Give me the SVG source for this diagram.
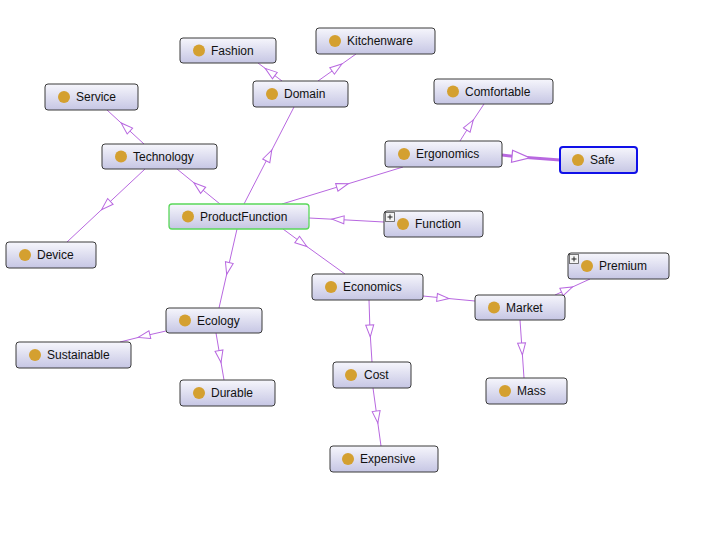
<svg xmlns="http://www.w3.org/2000/svg" width="721" height="533" viewBox="0 0 721 533">
<defs>
<linearGradient id="g" x1="0" y1="0" x2="0" y2="1">
<stop offset="0" stop-color="#f6f6fc"/>
<stop offset="1" stop-color="#c6c6e4"/>
</linearGradient>
<marker id="a" markerUnits="userSpaceOnUse" markerWidth="16" markerHeight="12" refX="7" refY="5" orient="auto">
<path d="M1,1 L13,5 L1,9 Z" fill="#fff" stroke="#b868e0" stroke-width="1"/>
</marker>
<marker id="b" markerUnits="userSpaceOnUse" markerWidth="22" markerHeight="16" refX="9" refY="7" orient="auto">
<path d="M1,1 L19,7 L1,13 Z" fill="#fff" stroke="#b868e0" stroke-width="1.2"/>
</marker>
</defs>
<style>
.n rect.b{fill:url(#g);stroke:#3a3a3a;stroke-width:1}
.n circle{fill:#d4a030}
.n text{font-family:"Liberation Sans",Arial,sans-serif;font-size:12px;fill:#111}
.e polyline{fill:none;stroke:#b868e0;stroke-width:1;marker-mid:url(#a)}
.e polyline.t{stroke-width:3;marker-mid:url(#b)}
.p rect{fill:#f4f4f4;stroke:#555;stroke-width:0.8}
.p path{stroke:#222;stroke-width:1}
</style>
<rect width="721" height="533" fill="#fff"/>
<g id="edges" class="e">
<polyline points="282,81 270,72 258,63"/>
<polyline points="318,81 337,67.5 356,54"/>
<polyline points="244,204 269,155.5 294,107"/>
<polyline points="220,204 198.5,186.5 177,169"/>
<polyline points="144,144 125.5,127 107,110"/>
<polyline points="145,169 106,205.5 67,242"/>
<polyline points="237,229 228,268.5 219,308"/>
<polyline points="166,331 144,336 120,342"/>
<polyline points="216,333 220,356.5 224,380"/>
<polyline points="282,204 342.5,185.5 403,167"/>
<polyline points="460,141 470,125 484,104"/>
<polyline class="t" points="502,155 520,157 560,160"/>
<polyline points="384,222 338,219.5 309,218"/>
<polyline points="283,229 302,243 345,274"/>
<polyline points="423,296 443,298 475,301"/>
<polyline points="369,300 370,331 372,362"/>
<polyline points="373,388 377,417 381,446"/>
<polyline points="555,295 567,289.5 590,279"/>
<polyline points="520,320 522,349 524,378"/>
</g>
<g id="Fashion" class="n"><rect class="b" x="180" y="38" width="96" height="25" rx="3"/><circle cx="199" cy="50.5" r="6"/><text x="211" y="54.5">Fashion</text></g>
<g id="Kitchenware" class="n"><rect class="b" x="316" y="28" width="119" height="26" rx="3"/><circle cx="335" cy="41" r="6"/><text x="347" y="45">Kitchenware</text></g>
<g id="Domain" class="n"><rect class="b" x="253" y="81" width="95" height="26" rx="3"/><circle cx="272" cy="94" r="6"/><text x="284" y="98">Domain</text></g>
<g id="Service" class="n"><rect class="b" x="45" y="84" width="93" height="26" rx="3"/><circle cx="64" cy="97" r="6"/><text x="76" y="101">Service</text></g>
<g id="Technology" class="n"><rect class="b" x="102" y="144" width="115" height="25" rx="3"/><circle cx="121" cy="156.5" r="6"/><text x="133" y="160.5">Technology</text></g>
<g id="Device" class="n"><rect class="b" x="6" y="242" width="90" height="26" rx="3"/><circle cx="25" cy="255" r="6"/><text x="37" y="259">Device</text></g>
<g id="ProductFunction" class="n"><rect class="b" x="169" y="204" width="140" height="25" rx="3" style="stroke:#5ad85a;stroke-width:1.3"/><circle cx="188" cy="216.5" r="6"/><text x="200" y="220.5">ProductFunction</text></g>
<g id="Comfortable" class="n"><rect class="b" x="434" y="79" width="119" height="25" rx="3"/><circle cx="453" cy="91.5" r="6"/><text x="465" y="95.5">Comfortable</text></g>
<g id="Ergonomics" class="n"><rect class="b" x="385" y="141" width="117" height="26" rx="3"/><circle cx="404" cy="154" r="6"/><text x="416" y="158">Ergonomics</text></g>
<g id="Safe" class="n"><rect class="b" x="560" y="147" width="77" height="26" rx="3" style="stroke:#1010e8;stroke-width:2"/><circle cx="578" cy="160" r="6"/><text x="590" y="164">Safe</text></g>
<g id="Function" class="n"><rect class="b" x="384" y="211" width="99" height="26" rx="3"/><circle cx="403" cy="224" r="6"/><text x="415" y="228"><tspan>Function</tspan></text><g class="p"><rect x="385.5" y="212.5" width="9" height="9"/><path d="M387.5,217 H392.5 M390,214.5 V219.5"/></g></g>
<g id="Premium" class="n"><rect class="b" x="568" y="253" width="101" height="26" rx="3"/><circle cx="587" cy="266" r="6"/><text x="599" y="270">Premium</text><g class="p"><rect x="569.5" y="254.5" width="9" height="9"/><path d="M571.5,259 H576.5 M574,256.5 V261.5"/></g></g>
<g id="Economics" class="n"><rect class="b" x="312" y="274" width="111" height="26" rx="3"/><circle cx="331" cy="287" r="6"/><text x="343" y="291">Economics</text></g>
<g id="Market" class="n"><rect class="b" x="475" y="295" width="90" height="25" rx="3"/><circle cx="494" cy="307.5" r="6"/><text x="506" y="311.5">Market</text></g>
<g id="Ecology" class="n"><rect class="b" x="166" y="308" width="96" height="25" rx="3"/><circle cx="185" cy="320.5" r="6"/><text x="197" y="324.5">Ecology</text></g>
<g id="Sustainable" class="n"><rect class="b" x="16" y="342" width="115" height="26" rx="3"/><circle cx="35" cy="355" r="6"/><text x="47" y="359">Sustainable</text></g>
<g id="Durable" class="n"><rect class="b" x="180" y="380" width="95" height="26" rx="3"/><circle cx="199" cy="393" r="6"/><text x="211" y="397">Durable</text></g>
<g id="Cost" class="n"><rect class="b" x="333" y="362" width="78" height="26" rx="3"/><circle cx="351" cy="375" r="6"/><text x="364" y="379">Cost</text></g>
<g id="Mass" class="n"><rect class="b" x="486" y="378" width="81" height="26" rx="3"/><circle cx="505" cy="391" r="6"/><text x="517" y="395">Mass</text></g>
<g id="Expensive" class="n"><rect class="b" x="330" y="446" width="108" height="26" rx="3"/><circle cx="348" cy="459" r="6"/><text x="360" y="463">Expensive</text></g>
</svg>
